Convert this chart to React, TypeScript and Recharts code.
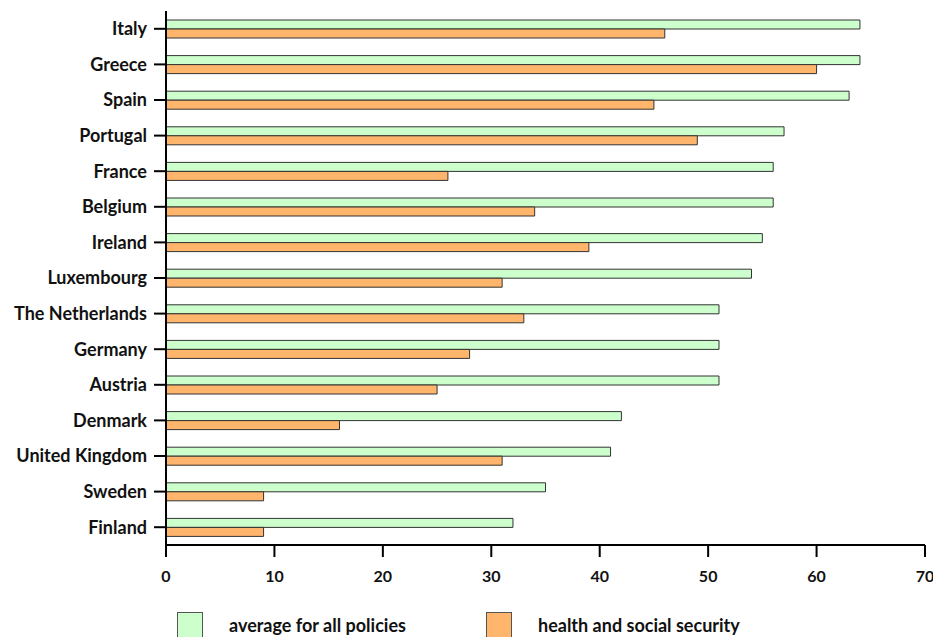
import React from "react";
import { BarChart, Bar, XAxis, YAxis } from "recharts";

const countries = [
  "Italy", "Greece", "Spain", "Portugal", "France", "Belgium", "Ireland",
  "Luxembourg", "The Netherlands", "Germany", "Austria", "Denmark",
  "United Kingdom", "Sweden", "Finland",
];
const averageAll = [64, 64, 63, 57, 56, 56, 55, 54, 51, 51, 51, 42, 41, 35, 32];
const healthSocial = [46, 60, 45, 49, 26, 34, 39, 31, 33, 28, 25, 16, 31, 9, 9];
const xTicks = [0, 10, 20, 30, 40, 50, 60, 70];
const seriesNames = ["average for all policies", "health and social security"];
const colors = ["#CCFFCC", "#FFB56B"];

const data = countries.map((c, i) => ({
  country: c,
  avg: averageAll[i],
  health: healthSocial[i],
}));

const FONT = "Lato, 'Open Sans', sans-serif";

const LegendBlock = () => (
  <div style={{ position: "absolute", left: 0, top: 612, width: 933, height: 25, fontFamily: FONT, fontWeight: 700, fontSize: 18, color: "#111" }}>
    {seriesNames.map((n, i) => (
      <div key={n} style={{ position: "absolute", left: i === 0 ? 177 : 486, top: 0, height: 25, display: "flex", alignItems: "center" }}>
        <div style={{ width: 26, height: 26, background: colors[i], border: "1px solid #555", boxSizing: "border-box" }} />
        <span style={{ marginLeft: 26 }}>{n}</span>
      </div>
    ))}
  </div>
);

export default function App() {
  return (
    <div style={{ position: "absolute", left: 0, top: 0, width: 933, height: 637, background: "#fff", overflow: "hidden" }}>
      <BarChart
        width={933}
        height={637}
        data={data}
        layout="vertical"
        margin={{ top: 11, right: 8, bottom: 62, left: 0 }}
        barGap={0}
      >
        <XAxis
          type="number"
          domain={[0, 70]}
          ticks={xTicks}
          interval={0}
          height={30}
          tickSize={12}
          tickMargin={14}
          axisLine={{ stroke: "#000", strokeWidth: 2 }}
          tickLine={{ stroke: "#000", strokeWidth: 2 }}
          tick={{ fill: "#111", fontFamily: FONT, fontWeight: 700, fontSize: 16 }}
        />
        <YAxis
          type="category"
          dataKey="country"
          width={166}
          interval={0}
          tickSize={12}
          tickMargin={7}
          axisLine={{ stroke: "#000", strokeWidth: 2 }}
          tickLine={{ stroke: "#000", strokeWidth: 2 }}
          tick={{ fill: "#111", fontFamily: FONT, fontWeight: 700, fontSize: 18 }}
        />
        <Bar dataKey="avg" name={seriesNames[0]} fill={colors[0]} stroke="#333" strokeWidth={1} barSize={9} isAnimationActive={false} />
        <Bar dataKey="health" name={seriesNames[1]} fill={colors[1]} stroke="#333" strokeWidth={1} barSize={9} isAnimationActive={false} />
      </BarChart>
      <LegendBlock />
    </div>
  );
}
